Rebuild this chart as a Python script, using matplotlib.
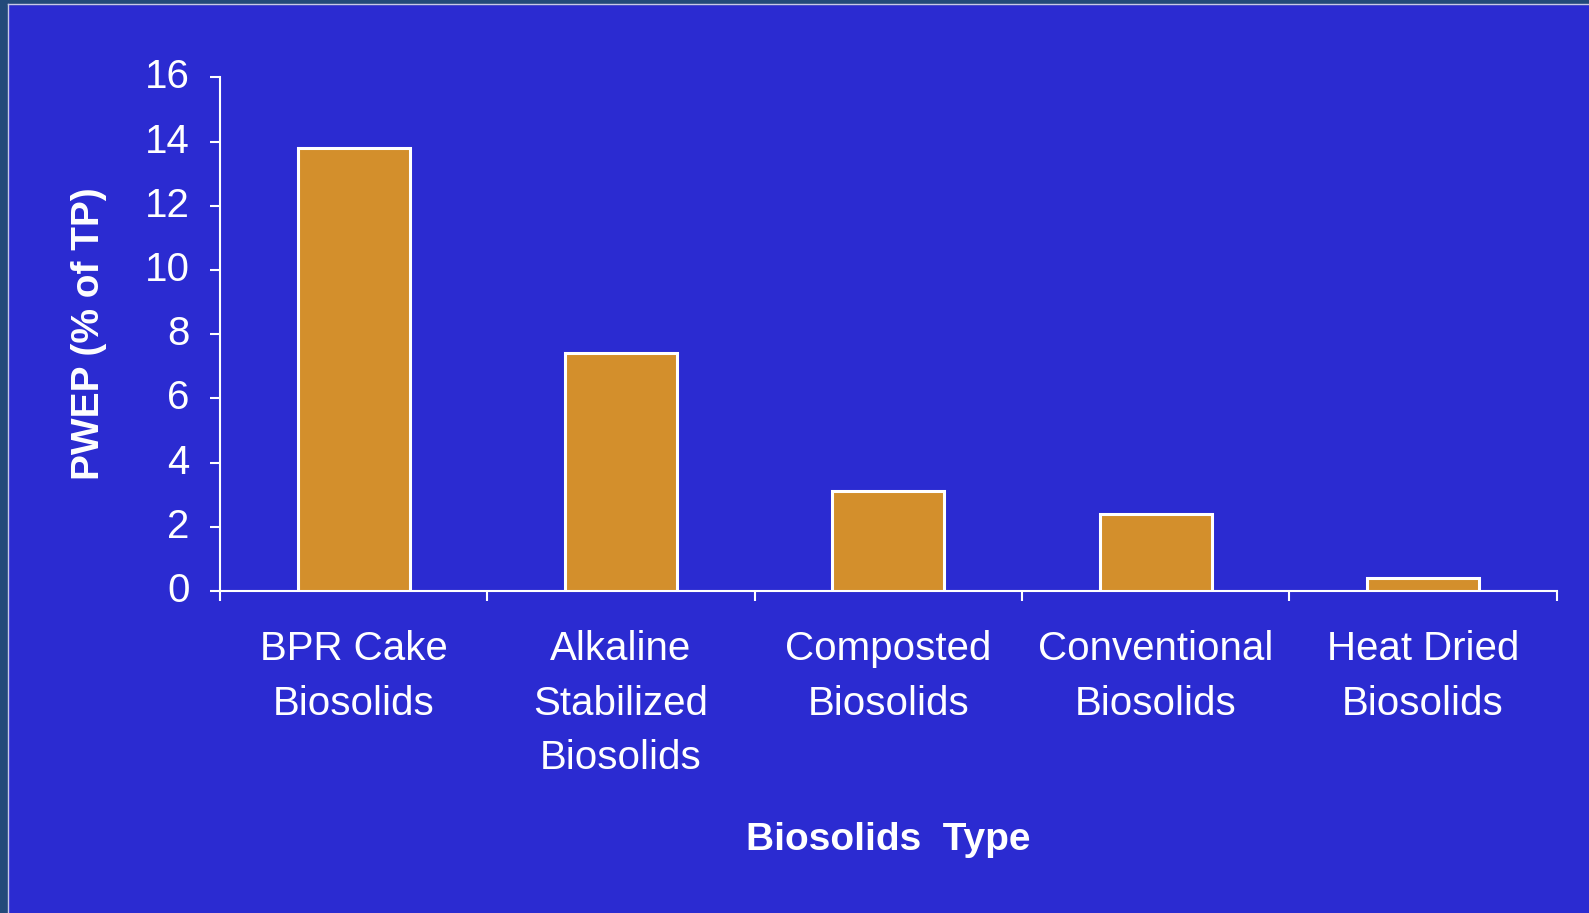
import matplotlib
matplotlib.use("Agg")
import matplotlib.pyplot as plt
import matplotlib.transforms as mtransforms
from matplotlib.patches import Rectangle

# data
categories = ["BPR Cake\nBiosolids", "Alkaline\nStabilized\nBiosolids", "Composted\nBiosolids",
              "Conventional\nBiosolids", "Heat Dried\nBiosolids"]
pwep = [13.8, 7.4, 3.1, 2.4, 0.4]
yticks = [0, 2, 4, 6, 8, 10, 12, 14, 16]

bg = "#2b2bd1"
bar_col = "#d38f2c"
W, H = 1589, 913

plt.rcParams['font.family'] = ['Liberation Sans', 'DejaVu Sans']

fig = plt.figure(figsize=(W / 100, H / 100), dpi=100)
fig.patch.set_facecolor(bg)

# dark frame on left/top edge with a thin light line
fig.patches.append(Rectangle((0, 0), 7 / W, 1, transform=fig.transFigure, color="#234a7a", zorder=0))
fig.patches.append(Rectangle((0, 1 - 4 / H), 1, 4 / H, transform=fig.transFigure, color="#234a7a", zorder=0))
fig.add_artist(plt.Line2D([7.5 / W, 7.5 / W], [0, 1 - 4.5 / H], transform=fig.transFigure, color="#c8c8e8", lw=1))
fig.add_artist(plt.Line2D([7.5 / W, 1], [1 - 4.5 / H, 1 - 4.5 / H], transform=fig.transFigure, color="#c8c8e8", lw=1))

ax = fig.add_axes([220 / W, 1 - 591 / H, (1556.7 - 220) / W, (591 - 77.3) / H])
ax.set_facecolor(bg)

x = range(len(categories))
ax.bar(x, pwep, width=0.42, color=bar_col, edgecolor="white", linewidth=2.2, zorder=3)

ax.set_xlim(-0.5, len(categories) - 0.5)
ax.set_ylim(0, 16)
ax.set_yticks(yticks)
ax.set_yticklabels([str(v) for v in yticks])

# labels centred under bars, ticks on category boundaries
ax.set_xticks(list(x))
ax.set_xticklabels(categories, linespacing=1.56)
ax.tick_params(axis="x", which="major", length=0, pad=28, labelsize=29, colors="white")
ax.set_xticks([i - 0.5 for i in range(len(categories) + 1)], minor=True)
ax.tick_params(axis="x", which="minor", length=7, width=1.5, color="white", direction="out")
ax.tick_params(axis="y", length=7, width=1.5, colors="white", labelsize=29, pad=15)

# y labels sit a little above their ticks in the original
shift = mtransforms.ScaledTranslation(0, 4 / 100, fig.dpi_scale_trans)
for lab in ax.get_yticklabels():
    lab.set_transform(lab.get_transform() + shift)

for s in ["top", "right"]:
    ax.spines[s].set_visible(False)
for s in ["left", "bottom"]:
    ax.spines[s].set_color("white")
    ax.spines[s].set_linewidth(1.5)

ax.set_xlabel("Biosolids  Type", color="white", fontsize=28, fontweight="bold", labelpad=32)
ax.set_ylabel("PWEP (% of TP)", color="white", fontsize=28, fontweight="bold", labelpad=27)

fig.savefig("out.png", dpi=100, facecolor=bg)
